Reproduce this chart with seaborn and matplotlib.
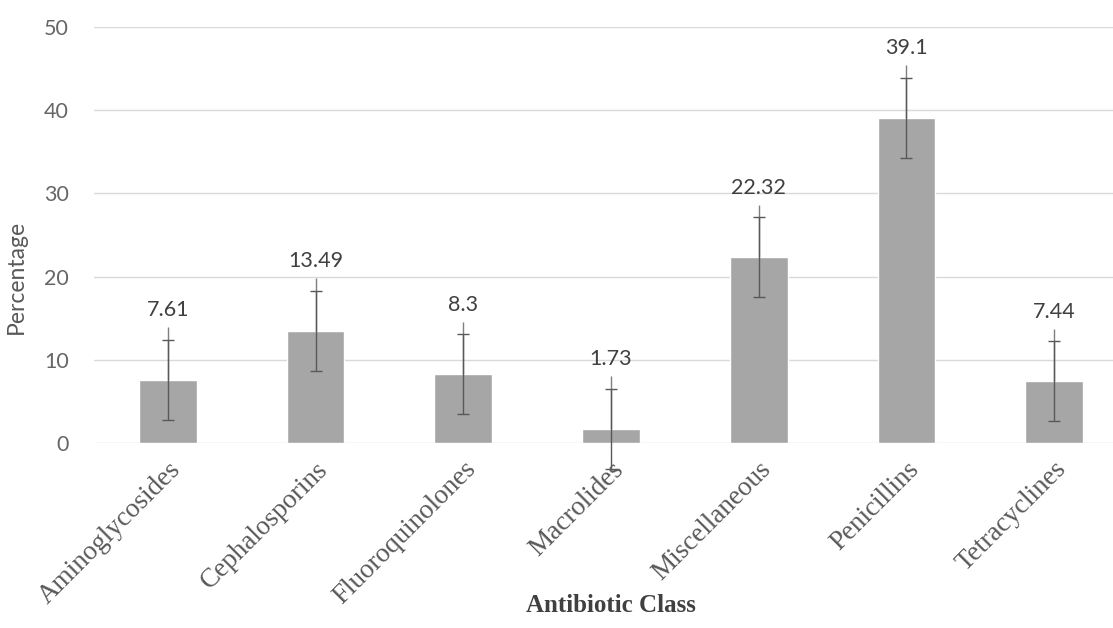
import matplotlib
matplotlib.use('Agg')
import matplotlib.pyplot as plt
import seaborn as sns

# Data
classes = ['Aminoglycosides', 'Cephalosporins', 'Fluoroquinolones', 'Macrolides',
           'Miscellaneous', 'Penicillins', 'Tetracyclines']
percent = [7.61, 13.49, 8.3, 1.73, 22.32, 39.1, 7.44]
err = [4.8, 4.8, 4.8, 4.8, 4.8, 4.8, 4.8]
err_top = [6.3, 6.3, 6.3, 6.3, 6.3, 6.3, 6.3]
y_ticks = [0, 10, 20, 30, 40, 50]

sns.set_theme(style='white')
plt.rcParams['font.family'] = ['Lato', 'DejaVu Sans']

fig = plt.figure(figsize=(11.13, 6.28), dpi=100)
ax = fig.add_axes([94 / 1113, 185 / 628, 1034 / 1113, 416 / 628])

sns.barplot(x=classes, y=percent, color='#a6a6a6', saturation=1, width=0.39,
            ax=ax, zorder=2)

xs = range(len(classes))
# thin line reaching above the cap
ax.errorbar(xs, percent, yerr=[[0] * len(xs), err_top], fmt='none',
            ecolor='#7f7f7f', elinewidth=1, capsize=0, zorder=3, clip_on=False)
ax.errorbar(xs, percent, yerr=err, fmt='none', ecolor='#595959',
            elinewidth=1, capsize=4.5, capthick=1, zorder=4, clip_on=False)

for x, v, t in zip(xs, percent, err_top):
    ax.annotate(f'{v:g}', (x, v + t), xytext=(0, 5), textcoords='offset points',
                ha='center', va='bottom', fontsize=15.5, color='#404040')

ax.set_ylim(0, 50)
ax.set_xlim(-0.5, len(classes) - 0.5)
ax.set_yticks(y_ticks)
ax.yaxis.grid(True, color='#d9d9d9', linewidth=1)
ax.set_axisbelow(True)
for s in ax.spines.values():
    s.set_visible(False)
ax.tick_params(axis='y', length=0, pad=18, labelsize=15.5, labelcolor='#666666')
ax.tick_params(axis='x', length=0, pad=10)

ax.set_xticks(list(xs))
ax.set_xticklabels(classes, rotation=45, ha='right', rotation_mode='anchor',
                   family='Liberation Serif', fontsize=19.5, color='#595959')

ax.set_ylabel('Percentage', fontsize=16.5, color='#595959')
ax.yaxis.set_label_coords(-0.065, 0.4)
fig.text(611 / 1113, 1 - 606 / 628, 'Antibiotic Class', ha='center', va='center',
         family='Liberation Serif', fontweight='bold', fontsize=18, color='#404040')

plt.savefig('out.png', dpi=100)
